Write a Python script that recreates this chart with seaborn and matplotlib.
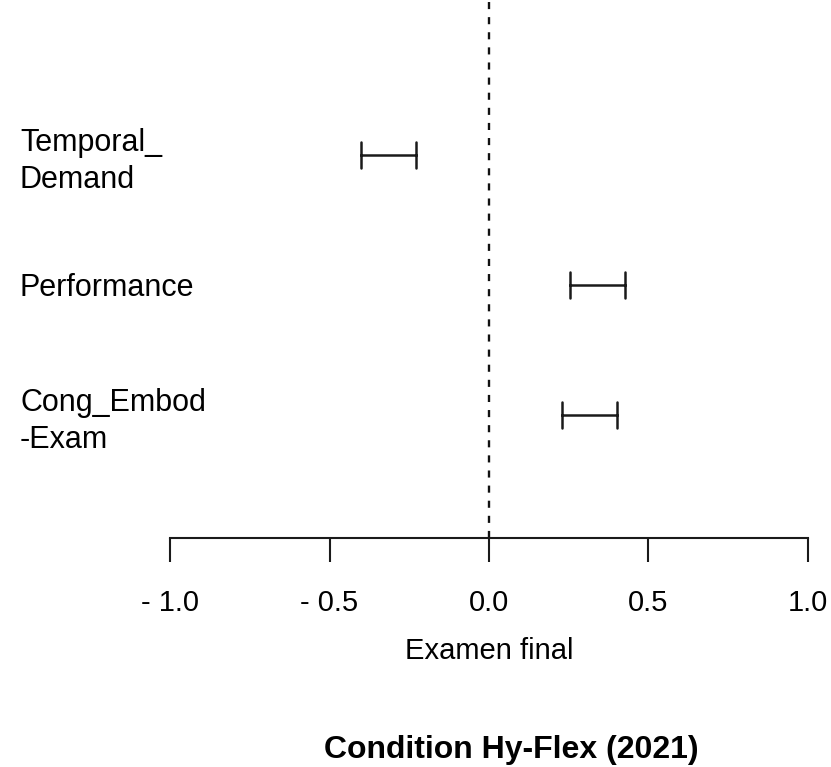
import numpy as np
import pandas as pd
import matplotlib
matplotlib.use("Agg")
import matplotlib.pyplot as plt
import seaborn as sns

# intervalles (Examen final, Hy-Flex 2021)
predicteurs = ["Temporal_\nDemand", "Performance", "Cong_Embod\n-Exam"]
borne_inf = [-0.40, 0.255, 0.23]
borne_sup = [-0.23, 0.425, 0.40]
graduations = [-1.0, -0.5, 0.0, 0.5, 1.0]
etiquettes = ["- 1.0", "- 0.5", "0.0", "0.5", "1.0"]

sns.set_theme(style="white")
plt.rcParams["font.family"] = ["Liberation Sans", "DejaVu Sans"]
plt.rcParams["text.color"] = "black"
plt.rcParams["xtick.color"] = "black"
plt.rcParams["ytick.color"] = "black"
plt.rcParams["axes.labelcolor"] = "black"

# tableau long : deux valeurs par predicteur, l'intervalle = min..max
df = pd.DataFrame({
    "pred": predicteurs * 2,
    "val": borne_inf + borne_sup,
})

fig = plt.figure(figsize=(8.31, 7.67), dpi=100)
ax = fig.add_axes([170 / 831, 1 - 538 / 767, (808 - 170) / 831, 538 / 767])

sns.pointplot(data=df, x="val", y="pred", order=predicteurs,
              errorbar=("pi", 100), capsize=0.2, markers="", linestyle="none",
              color="#1a1a1a", err_kws={"linewidth": 1.8}, ax=ax)

# ligne de reference a zero
ax.axvline(0, color="#111111", lw=1.7, ls=(0, (3.0, 3.4)), zorder=0)

ax.set_xlim(-1.0, 1.0)
ax.set_ylim(2.95, -1.19)
ax.set_xticks(graduations)
ax.set_xticklabels(etiquettes, fontsize=21)
ax.set_yticks(range(len(predicteurs)))
ax.set_yticklabels(predicteurs, fontsize=22, ha="left", linespacing=1.3)
ax.tick_params(axis="y", left=False, length=0, pad=150 * 0.72)
ax.tick_params(axis="x", bottom=True, length=17, width=1.5, color="#1a1a1a",
               pad=20, direction="out")

for s in ["top", "right", "left"]:
    ax.spines[s].set_visible(False)
ax.spines["bottom"].set_color("#1a1a1a")
ax.spines["bottom"].set_linewidth(1.5)
ax.spines["bottom"].set_bounds(-1.0, 1.0)

ax.set_ylabel("")
ax.set_xlabel("Examen final", fontsize=21, labelpad=14)

fig.text(511 / 831, 1 - 750 / 767, "Condition Hy-Flex (2021)", fontsize=23,
         fontweight="bold", ha="center", va="center")

fig.savefig("out.png", dpi=100, facecolor="white")
